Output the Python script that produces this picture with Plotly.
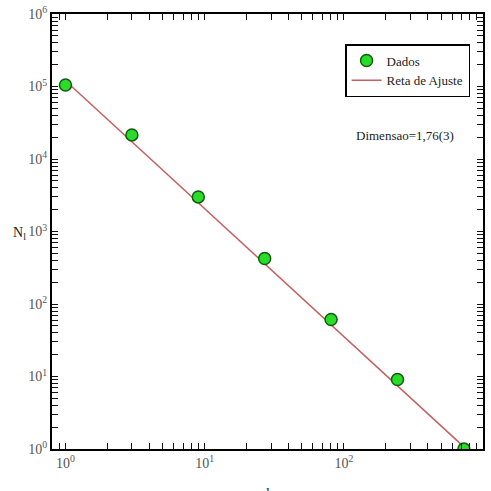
import numpy as np
import plotly.graph_objects as go

# Data
l_vals = [1, 3, 9, 27, 81, 243, 729]
N_vals = [1.05e5, 2.15e4, 3.0e3, 424, 61, 9.1, 1.0]
fit_x = [1, 729]
fit_y = [1.2e5, 1.07]

# Tick positions: decades carry labels, intermediate digits are unlabeled
x_decades = [1, 10, 100, 1000]
y_decades = [1, 10, 100, 1e3, 1e4, 1e5, 1e6]
x_sub = [m * 10 ** d for d in range(-1, 3) for m in range(2, 10)]
y_sub = [m * 10 ** d for d in range(0, 6) for m in range(2, 10)]


def tick_arrays(decades, subs):
    vals = list(decades) + list(subs)
    text = ["10<sup>%d</sup>" % round(np.log10(v)) for v in decades] + [""] * len(subs)
    return vals, text


x_tv, x_tt = tick_arrays(x_decades, x_sub)
y_tv, y_tt = tick_arrays(y_decades, y_sub)

serif = "Liberation Serif"
x_range = [np.log10(0.8), 3.0]
y_range = [0, 6]

fig = go.Figure()
fig.add_trace(go.Scatter(
    x=fit_x, y=fit_y, mode="lines", name="Reta de Ajuste",
    line=dict(color="rgb(196,96,96)", width=1.5)))
fig.add_trace(go.Scatter(
    x=l_vals, y=N_vals, mode="markers", name="Dados",
    marker=dict(size=12, color="rgb(40,220,40)",
                line=dict(color="rgb(20,90,20)", width=1.5))))

axis_common = dict(
    type="log", showgrid=False, showline=True,
    linecolor="black", linewidth=2, mirror="allticks",
    ticks="inside", ticklen=6, tickwidth=1.2, tickcolor="#111",
    automargin=False, tickmode="array",
)

fig.update_xaxes(**axis_common, range=x_range, tickvals=x_tv, ticktext=x_tt)
fig.update_yaxes(**axis_common, range=y_range, tickvals=y_tv, ticktext=y_tt)

fig.update_layout(
    width=491, height=491,
    margin=dict(l=52, r=8, t=14, b=42),
    plot_bgcolor="white", paper_bgcolor="white",
    font=dict(family=serif, size=14, color="#555"),
    showlegend=True,
    legend=dict(x=0.68, y=0.931, xanchor="left", yanchor="top",
                bordercolor="black", borderwidth=1.5, bgcolor="white",
                font=dict(family=serif, size=13, color="#222"),
                traceorder="reversed", itemwidth=30, tracegroupgap=0),
    annotations=[
        dict(text="Dimensao=1,76(3)", x=0.70, y=0.72, xref="paper", yref="paper",
             xanchor="left", yanchor="middle", showarrow=False,
             font=dict(family=serif, size=13, color="#222")),
        dict(text="N<sub>l</sub>", x=-0.075, y=0.495, xref="paper", yref="paper",
             xanchor="center", yanchor="middle", showarrow=False,
             font=dict(family=serif, size=14, color="#222")),
        dict(text="l", x=0.5, y=-0.08, xref="paper", yref="paper",
             xanchor="center", yanchor="top", showarrow=False,
             font=dict(family=serif, size=14, color="#222")),
    ],
)

fig.write_html("out.html", config={"displayModeBar": False},
               post_script="document.body.style.margin='0';")
